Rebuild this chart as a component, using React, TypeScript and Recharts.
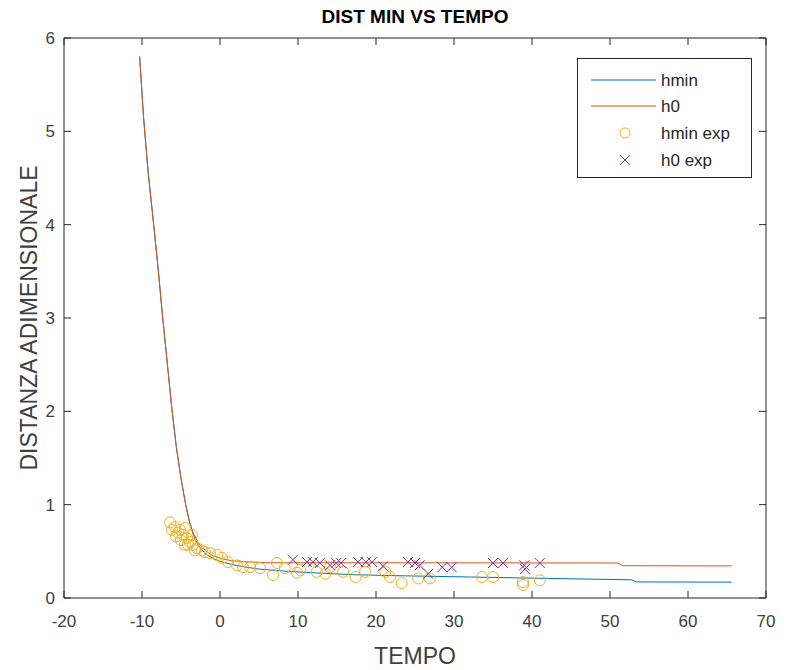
import React from "react"
import { ComposedChart, Line, Scatter, XAxis, YAxis, Label } from "recharts"

// axis ticks
const xTicks = [-20, -10, 0, 10, 20, 30, 40, 50, 60, 70]
const yTicks = [0, 1, 2, 3, 4, 5, 6]

// h0 model curve
const h0Time = [-10.3, -9.8, -9.2, -8.5, -7.9, -7.4, -6.8, -6.2, -5.6, -5.0, -4.4, -3.9, -3.4, -2.9, -2.4, -1.6, -0.8, 0.3, 1.5, 3, 6, 51.0, 51.6, 65.6]
const h0Vals = [5.8, 5.15, 4.55, 4.0, 3.5, 3.05, 2.55, 2.05, 1.62, 1.28, 1.0, 0.81, 0.69, 0.61, 0.55, 0.49, 0.45, 0.42, 0.4, 0.39, 0.378, 0.375, 0.346, 0.344]

// hmin model curve
const hminTime = [-10.3, -9.8, -9.2, -8.5, -7.9, -7.4, -6.8, -6.2, -5.6, -5.0, -4.4, -3.9, -3.4, -2.9, -2.4, -1.6, -0.8, 0.3, 1.5, 3, 5, 8, 12, 17, 22, 32, 42, 52.8, 53.4, 65.6]
const hminVals = [5.8, 5.15, 4.55, 4.0, 3.5, 3.05, 2.55, 2.05, 1.62, 1.28, 1.0, 0.81, 0.67, 0.58, 0.52, 0.46, 0.42, 0.385, 0.36, 0.335, 0.31, 0.29, 0.27, 0.25, 0.24, 0.225, 0.21, 0.195, 0.172, 0.17]

// experimental hmin
const hminExpTime = [-6.4, -6.15, -5.77, -5.64, -5.38, -5.13, -5.0, -4.74, -4.5, -4.5, -4.23, -4.1, -3.85, -3.6, -3.46, -3.2, -2.95, -2.31, -1.92, -1.28, -0.38, 0.26, 1.03, 2.18, 2.95, 3.85, 5.13, 6.8, 7.31, 8.3, 9.87, 10.3, 12.4, 13.5, 14.1, 15.8, 17.4, 18.6, 21.2, 21.8, 23.3, 25.4, 26.9, 33.6, 35.0, 38.85, 38.85, 41.0]
const hminExpVals = [0.81, 0.73, 0.76, 0.66, 0.7, 0.73, 0.62, 0.675, 0.75, 0.57, 0.64, 0.57, 0.6, 0.675, 0.57, 0.51, 0.535, 0.51, 0.49, 0.48, 0.46, 0.43, 0.385, 0.35, 0.33, 0.33, 0.32, 0.246, 0.375, 0.32, 0.27, 0.3, 0.28, 0.26, 0.33, 0.28, 0.225, 0.28, 0.28, 0.225, 0.16, 0.21, 0.21, 0.225, 0.225, 0.17, 0.14, 0.19]

// experimental h0
const h0ExpTime = [9.36, 11.15, 11.9, 12.8, 14.1, 14.9, 15.5, 17.7, 18.7, 19.5, 20.9, 24.1, 25.0, 25.6, 26.7, 28.5, 29.7, 35.0, 36.3, 39.0, 39.1, 41.0]
const h0ExpVals = [0.41, 0.385, 0.385, 0.375, 0.35, 0.375, 0.375, 0.385, 0.385, 0.385, 0.34, 0.385, 0.375, 0.35, 0.26, 0.33, 0.33, 0.375, 0.375, 0.35, 0.31, 0.375]

const toPoints = (t: number[], v: number[]) => t.map((x, i) => ({ t: x, v: v[i] }))

const h0Data = toPoints(h0Time, h0Vals)
const hminData = toPoints(hminTime, hminVals)
const hminExpData = toPoints(hminExpTime, hminExpVals)
const h0ExpData = toPoints(h0ExpTime, h0ExpVals)

const BLUE = "#0072BD"
const ORANGE = "#D95319"
const YELLOW = "#EDB120"
const PURPLE = "#7E2F8E"
const AXIS = "#262626"
const TEXT = "#404040"
const FONT = "'Liberation Sans', Arial, sans-serif"

const BottomTick = (props: any) => {
    const { x, y, payload } = props
    return (
        <g>
            <line x1={x} y1={y} x2={x} y2={y - 7} stroke={AXIS} />
            <text x={x} y={y + 29} textAnchor="middle" fontSize={17} fill={TEXT} fontFamily={FONT}>{payload.value}</text>
        </g>
    )
}

const TopTick = (props: any) => {
    const { x, y } = props
    return <line x1={x} y1={y} x2={x} y2={y + 7} stroke={AXIS} />
}

const LeftTick = (props: any) => {
    const { x, y, payload } = props
    return (
        <g>
            <line x1={x} y1={y} x2={x + 7} y2={y} stroke={AXIS} />
            <text x={x - 9} y={y + 6} textAnchor="end" fontSize={17} fill={TEXT} fontFamily={FONT}>{payload.value}</text>
        </g>
    )
}

const RightTick = (props: any) => {
    const { x, y } = props
    return <line x1={x} y1={y} x2={x - 7} y2={y} stroke={AXIS} />
}

const Circle = (props: any) => (
    <circle cx={props.cx} cy={props.cy} r={5.5} fill="none" stroke={YELLOW} strokeWidth={1} />
)

const Cross = (props: any) => {
    const { cx, cy } = props
    const d = 5
    return (
        <g stroke={PURPLE} strokeWidth={1}>
            <line x1={cx - d} y1={cy - d} x2={cx + d} y2={cy + d} />
            <line x1={cx - d} y1={cy + d} x2={cx + d} y2={cy - d} />
        </g>
    )
}

const legendRows = [
    { name: "hmin", kind: "line", color: BLUE, y: 22 },
    { name: "h0", kind: "line", color: ORANGE, y: 48 },
    { name: "hmin exp", kind: "circle", color: YELLOW, y: 75 },
    { name: "h0 exp", kind: "cross", color: PURPLE, y: 102 },
]

function LegendBox() {
    return (
        <svg width={175} height={120} style={{ position: "absolute", left: 577, top: 58, display: "block" }}>
            <rect x={0.5} y={0.5} width={174} height={119} fill="#fff" stroke={AXIS} />
            {legendRows.map((r) => (
                <g key={r.name}>
                    {r.kind === "line" && <line x1={14} y1={r.y} x2={79} y2={r.y} stroke={r.color} strokeWidth={1} />}
                    {r.kind === "circle" && <circle cx={48} cy={r.y} r={5} fill="none" stroke={r.color} />}
                    {r.kind === "cross" && (
                        <g stroke={r.color}>
                            <line x1={43} y1={r.y - 5} x2={53} y2={r.y + 5} />
                            <line x1={43} y1={r.y + 5} x2={53} y2={r.y - 5} />
                        </g>
                    )}
                    <text x={84} y={r.y + 6} fontSize={17} fill={AXIS} fontFamily={FONT}>{r.name}</text>
                </g>
            ))}
        </svg>
    )
}

export default function App() {
    return (
        <div style={{ position: "absolute", left: 0, top: 0, width: 787, height: 670, background: "#fff" }}>
            <ComposedChart width={787} height={670} margin={{ top: 37, right: 20, bottom: 0, left: 0 }}>
                <XAxis
                    dataKey="t"
                    type="number"
                    domain={[-20, 70]}
                    ticks={xTicks}
                    allowDataOverflow
                    height={72}
                    tickSize={0}
                    tickMargin={0}
                    tickLine={false}
                    tick={<BottomTick />}
                    axisLine={{ stroke: AXIS }}
                >
                    <Label
                        content={() => (
                            <text x={415} y={664} textAnchor="middle" fontSize={23} fill={TEXT} fontFamily={FONT}>TEMPO</text>
                        )}
                    />
                </XAxis>
                <XAxis
                    xAxisId="top"
                    orientation="top"
                    dataKey="t"
                    type="number"
                    domain={[-20, 70]}
                    ticks={xTicks}
                    allowDataOverflow
                    height={1}
                    tickSize={0}
                    tickMargin={0}
                    tickLine={false}
                    tick={<TopTick />}
                    axisLine={{ stroke: AXIS }}
                />
                <YAxis
                    dataKey="v"
                    type="number"
                    domain={[0, 6]}
                    ticks={yTicks}
                    allowDataOverflow
                    width={64}
                    tickSize={0}
                    tickMargin={0}
                    tickLine={false}
                    tick={<LeftTick />}
                    axisLine={{ stroke: AXIS }}
                >
                    <Label
                        content={() => (
                            <text x={37} y={318} transform="rotate(-90 37 318)" textAnchor="middle" fontSize={23} fill={TEXT} fontFamily={FONT}>DISTANZA ADIMENSIONALE</text>
                        )}
                    />
                </YAxis>
                <YAxis
                    yAxisId="right"
                    orientation="right"
                    dataKey="v"
                    type="number"
                    domain={[0, 6]}
                    ticks={yTicks}
                    allowDataOverflow
                    width={1}
                    tickSize={0}
                    tickMargin={0}
                    tickLine={false}
                    tick={<RightTick />}
                    axisLine={{ stroke: AXIS }}
                />
                <Line data={hminData} dataKey="v" type="linear" stroke={BLUE} strokeWidth={1} dot={false} isAnimationActive={false} name="hmin" />
                <Line data={h0Data} dataKey="v" type="linear" stroke={ORANGE} strokeWidth={1} dot={false} isAnimationActive={false} name="h0" />
                <Scatter data={hminExpData} dataKey="v" shape={<Circle />} isAnimationActive={false} name="hmin exp" />
                <Scatter data={h0ExpData} xAxisId="top" yAxisId="right" dataKey="v" shape={<Cross />} isAnimationActive={false} name="h0 exp" />
            </ComposedChart>
            <div style={{ position: "absolute", left: 0, top: 4, width: 830, textAlign: "center", fontFamily: FONT, fontSize: 19, fontWeight: "bold", color: "#000", lineHeight: "26px" }}>
                DIST MIN VS TEMPO
            </div>
            <LegendBox />
        </div>
    )
}
